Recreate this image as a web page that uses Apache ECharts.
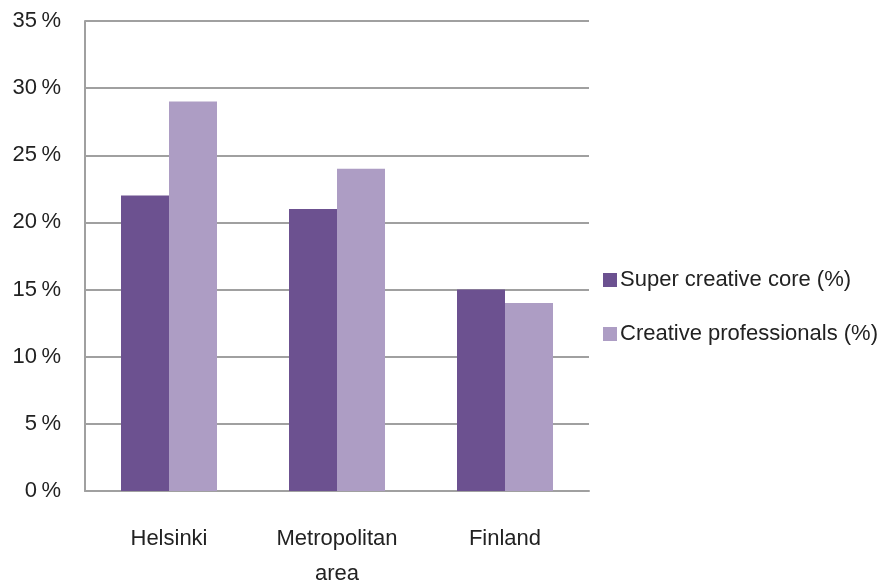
<!DOCTYPE html>
<html>
<head>
<meta charset="utf-8">
<script src="https://cdn.jsdelivr.net/npm/echarts@6/dist/echarts.min.js"></script>
<style>
	html,body{margin:0;padding:0;background:#fff;}
	#chart{width:893px;height:587px;}
</style>
</head>
<body>
<div id="chart"></div>
<script>
var regions = ['Helsinki', 'Metropolitan\narea', 'Finland'];
var superCore = [22, 21, 15];
var creativePros = [29, 24, 14];
var seriesNames = ['Super creative core (%)', 'Creative professionals (%)'];

var myChart = echarts.init(document.getElementById('chart'));
var font = 'Liberation Sans';

var option = {
	animation: false,
	grid: {left: 85, top: 21, width: 504, height: 470, outerBoundsMode: 'none', containLabel: false},
	legend: {
		orient: 'vertical',
		left: 598,
		top: 264,
		itemWidth: 14,
		itemHeight: 14,
		itemGap: 32,
		icon: 'rect',
		textStyle: {fontFamily: font, fontSize: 22, color: '#222', padding: [0, 0, 0, -2]},
		data: seriesNames
	},
	xAxis: {
		type: 'category',
		data: regions,
		axisLine: {lineStyle: {color: '#a0a0a0', width: 2}},
		axisTick: {show: false},
		axisLabel: {fontFamily: font, fontSize: 22, color: '#222', margin: 30, lineHeight: 35}
	},
	yAxis: {
		type: 'value',
		min: 0,
		max: 35,
		interval: 5,
		axisLine: {show: true, lineStyle: {color: '#a0a0a0', width: 2}},
		axisTick: {show: false},
		splitLine: {lineStyle: {color: '#a0a0a0', width: 2}},
		axisLabel: {fontFamily: font, fontSize: 22, color: '#222', margin: 24, formatter: '{value}\u2009%'}
	},
	series: [{
		name: seriesNames[0],
		type: 'bar',
		data: superCore,
		barWidth: 48,
		barGap: '0%',
		itemStyle: {color: '#6c5190'}
	}, {
		name: seriesNames[1],
		type: 'bar',
		data: creativePros,
		barWidth: 48,
		itemStyle: {color: '#ad9dc4'}
	}]
};

myChart.setOption(option);
</script>
</body>
</html>
